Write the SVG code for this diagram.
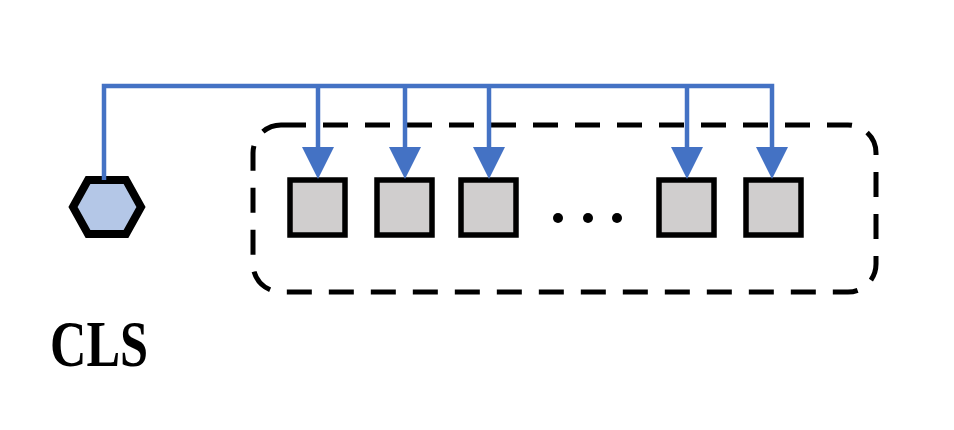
<svg xmlns="http://www.w3.org/2000/svg" width="954" height="430" viewBox="0 0 954 430">
<style>
.box{fill:#D0CECE;stroke:#000;stroke-width:5.5}
.conn{fill:none;stroke:#4472C4;stroke-width:4.5}
.head{fill:#4472C4}
.dot{fill:#000}
</style>
<rect width="954" height="430" fill="#fff"/>
<g id="group">
<rect x="253" y="125" width="623" height="167" rx="28" fill="none" stroke="#000" stroke-width="5" stroke-dasharray="25 17"/>
</g>
<g id="cls">
<polygon points="73,207 88,180 126,180 141,207 126,234 88,234" fill="#B4C7E7" stroke="#000" stroke-width="8" stroke-linejoin="miter"/>
<text x="50" y="366" font-family="'Liberation Serif', 'DejaVu Serif', serif" font-weight="bold" font-size="65" textLength="98" lengthAdjust="spacingAndGlyphs">CLS</text>
</g>
<g id="t1"><rect class="box" x="290" y="180" width="55" height="55"/></g>
<g id="t2"><rect class="box" x="377" y="180" width="55" height="55"/></g>
<g id="t3"><rect class="box" x="461" y="180" width="55" height="55"/></g>
<g id="dots"><circle class="dot" cx="558" cy="218" r="5"/><circle class="dot" cx="588" cy="218" r="5"/><circle class="dot" cx="617" cy="218" r="5"/></g>
<g id="t4"><rect class="box" x="659" y="180" width="55" height="55"/></g>
<g id="t5"><rect class="box" x="746" y="180" width="55" height="55"/></g>
<g id="connectors">
<polyline class="conn" points="104,180 104,86 772,86 772,150"/>
<line class="conn" x1="318" y1="86" x2="318" y2="150"/>
<line class="conn" x1="405" y1="86" x2="405" y2="150"/>
<line class="conn" x1="489" y1="86" x2="489" y2="150"/>
<line class="conn" x1="687" y1="86" x2="687" y2="150"/>
<polygon class="head" points="302,147 334,147 318,179"/>
<polygon class="head" points="389,147 421,147 405,179"/>
<polygon class="head" points="473,147 505,147 489,179"/>
<polygon class="head" points="671,147 703,147 687,179"/>
<polygon class="head" points="756,147 788,147 772,179"/>
</g>
</svg>
